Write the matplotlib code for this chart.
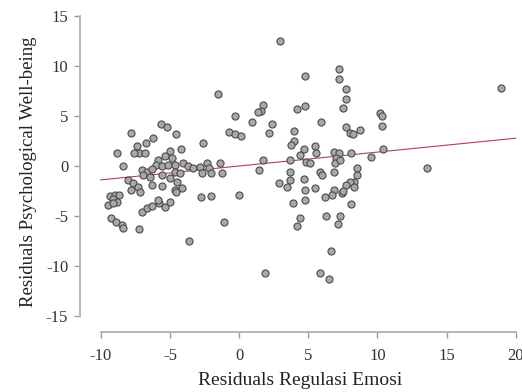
import matplotlib
matplotlib.use("Agg")
import matplotlib.pyplot as plt
import numpy as np

# residuals
res_emosi = [
    -7.8, -5.65, -5.24, -4.57, -6.26, -4.2, -8.82, -7.41, -6.74, -7.22,
    -6.81, -7.6, -8.38, -5.0, -5.36, -4.88, -5.85, -6.01, -5.6, -5.12,
    -7.05, -6.69, -6.33, -6.93, -6.45, -4.64, -4.04, -3.67, -3.31, -2.8,
    -2.7, -2.35, -2.2, -2.05, -1.38, -1.25, -2.59, -5.6, -4.64, -4.28,
    -5.0, -8.02, -7.66, -7.3, -7.78, -7.17, -6.33, -5.6, -4.51, -4.64,
    -4.15, -9.35, -8.99, -8.67, -9.1, -8.86, -9.47, -9.1, -9.28, -8.91,
    -8.5, -8.38, -7.22, -7.05, -6.69, -6.33, -5.78, -5.36, -5.0, -4.57,
    -3.6, -2.75, -2.0, -5.85, 0.02, -1.1,
    -1.5, -0.29, 0.92, 2.37, 2.13, -0.7, -0.29, 0.12, 1.72, 1.6,
    1.35, 2.97, 1.72, 1.47, 2.85, 1.9,
    4.73, 4.73, 4.18, 5.9, 3.94, 3.94, 3.75, 5.5, 5.55, 4.71,
    4.42, 4.86, 5.1, 3.7, 3.65, 3.7, 3.46, 4.71, 4.78, 5.5,
    4.75, 3.9, 5.82, 6.0, 4.4, 4.2, 5.87, 6.5,
    7.2, 7.2, 7.75, 7.75, 7.5, 7.75, 8.0, 8.24, 8.77, 6.88,
    7.2, 7.03, 6.96, 7.32, 8.1, 6.88, 8.53, 8.53, 8.28, 8.0,
    7.75, 8.3, 6.84, 6.72, 7.44, 6.23, 7.5, 8.1, 6.28, 7.27,
    7.12, 6.67, 9.54, 10.2, 10.35, 10.3, 10.4, 13.6, 18.9,
]
res_pwb = [
    3.3, 4.2, 3.87, 3.2, 2.83, 1.7, 1.33, 2.03, 2.27, 1.33,
    1.27, 1.27, 0.0, 1.53, 1.0, 0.77, 0.6, 0.1, 0.0, 0.1,
    -0.4, -0.57, -0.33, -0.9, -1.07, 0.1, 0.27, 0.0, -0.23, -0.1,
    -0.7, 0.25, -0.2, -0.7, 0.33, -0.75, 2.3, -0.9, -0.57, -0.73,
    -1.23, -1.4, -1.73, -2.07, -2.4, -2.57, -1.9, -2.0, -1.57, -2.4,
    -2.23, -3.0, -2.9, -2.87, -3.33, -3.57, -3.9, -3.73, -5.23, -5.57,
    -5.9, -6.23, -6.33, -4.57, -4.23, -4.0, -3.67, -4.07, -3.57, -2.57,
    -7.5, -3.1, -3.0, -3.4, -2.9, -5.6,
    7.2, 5.0, 4.4, 4.2, 3.27, 3.43, 3.2, 3.0, 6.1, 5.5,
    5.4, 12.5, 0.6, -0.4, -1.67, -10.7,
    9.0, 6.0, 5.7, 4.4, 3.53, 2.53, 2.07, 2.0, 1.3, 1.67,
    1.1, 0.43, 0.27, 0.55, -0.57, -1.4, -2.07, -1.33, -2.4, -2.23,
    -3.4, -3.7, -0.57, -0.9, -5.2, -6.0, -10.7, -11.3,
    9.7, 8.7, 7.7, 6.7, 5.8, 3.87, 3.33, 3.2, 3.6, 1.43,
    1.33, 0.77, 0.27, 0.6, 1.27, -0.57, -0.23, -0.9, -1.57, -1.57,
    -1.9, -2.1, -2.4, -2.9, -2.73, -3.13, -2.5, -3.83, -5.0, -5.0,
    -5.83, -8.47, 0.93, 5.3, 5.0, 4.0, 1.67, -0.23, 7.8,
]

# regression line
fit_slope = 0.139
fit_intercept = 0.0
x_ticks = [-10, -5, 0, 5, 10, 15, 20]
y_ticks = [-15, -10, -5, 0, 5, 10, 15]

plt.rcParams['font.family'] = ['Liberation Serif', 'DejaVu Serif']
plt.rcParams['axes.unicode_minus'] = False

fig = plt.figure(figsize=(5.22, 3.92), dpi=100)
ax = fig.add_axes([80/522, 60/392, 440/522, 321/392])

xl = np.array([x_ticks[0], x_ticks[-1]])
ax.plot(xl, fit_intercept + fit_slope*xl, color='#b5404f', lw=0.8, zorder=2)
ax.scatter(res_emosi, res_pwb, s=26, facecolor='#a8a8a8', edgecolor='#4a4a4a',
           linewidth=0.8, zorder=3)

ax.set_xlim(-11.5, 20.3)
ax.set_ylim(-16.6, 15.5)
ax.set_xticks(x_ticks)
ax.set_yticks(y_ticks)

for s in ['top', 'right']:
    ax.spines[s].set_visible(False)
ax.spines['left'].set_bounds(-15, 15)
ax.spines['bottom'].set_bounds(-10, 20)
for s in ['left', 'bottom']:
    ax.spines[s].set_color('#b5b5b5')
    ax.spines[s].set_linewidth(1.4)

ax.tick_params(axis='both', colors='#9a9a9a', length=4.5, width=1.0,
               labelsize=12, labelcolor='#333333')
ax.tick_params(axis='y', pad=4)
ax.tick_params(axis='x', pad=7)

ax.set_xlabel("Residuals Regulasi Emosi", fontsize=14, color='#222222', labelpad=6)
ax.set_ylabel("Residuals Psychological Well-being", fontsize=13.5, color='#222222', labelpad=6)

fig.savefig("out.png", dpi=100)
